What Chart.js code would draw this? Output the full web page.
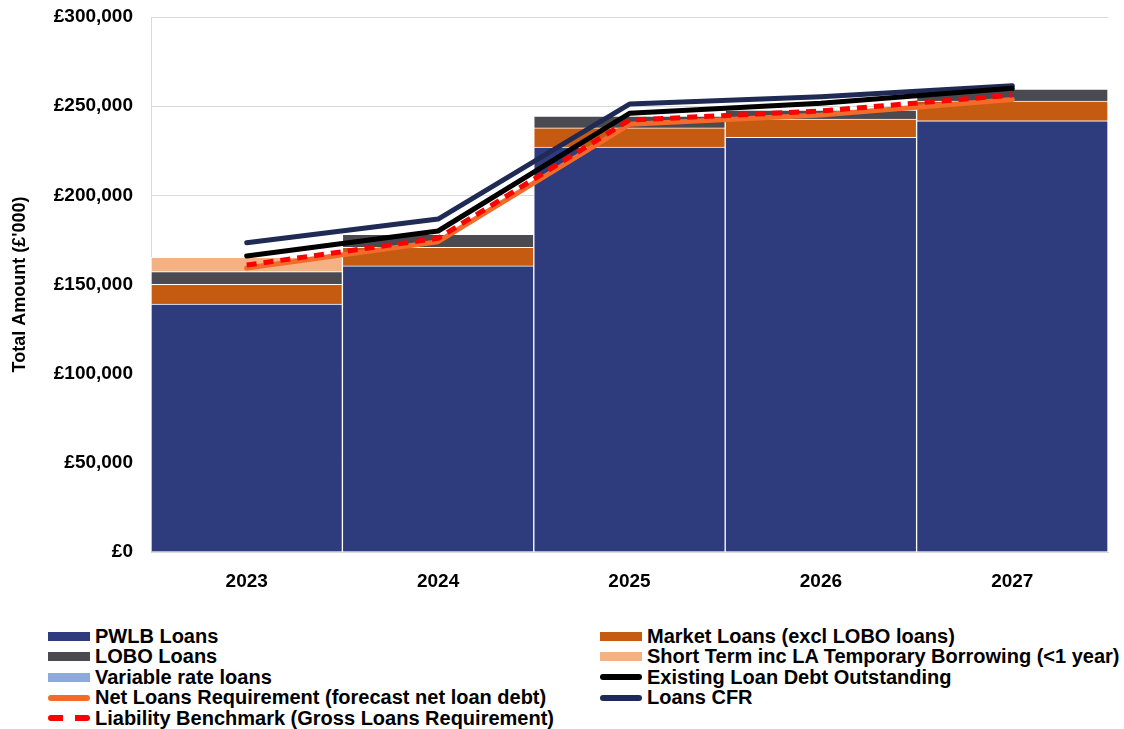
<!DOCTYPE html>
<html>
<head>
<meta charset="utf-8">
<script src="https://cdn.jsdelivr.net/npm/chart.js@4"></script>
<style>
  body { margin: 0; background: #fff; font-family: "Liberation Sans", Arial, sans-serif; }
  #wrap { position: relative; width: 1124px; height: 729px; }
  #legend { position: absolute; left: 0; top: 626px; width: 1124px; }
  .item { position: absolute; height: 20px; display: flex; align-items: center; font-weight: bold; font-size: 20px; color: #000; white-space: nowrap; }
  .sw { width: 42px; margin-right: 5px; }
</style>
</head>
<body>
<div id="wrap">
  <canvas id="chart" width="1124" height="600"></canvas>
  <div id="legend"></div>
</div>
<script>
// data (£'000)
const years = ['2023', '2024', '2025', '2026', '2027'];
const pwlbLoans = [139000, 160400, 227000, 232500, 241800];
const marketLoans = [11100, 10400, 10800, 10300, 11100];
const loboLoans = [7100, 7300, 6700, 5000, 6700];
const shortTerm = [8000, 0, 0, 0, 0];
const variableLoans = [0, 0, 0, 0, 0];
const existingDebt = [166000, 180000, 246000, 251600, 260000];
const loansCFR = [173400, 186700, 251200, 255300, 261500];
const netRequirement = [159200, 174000, 239800, 245000, 253800];
const benchmark = [160900, 175900, 242200, 247300, 256200];

const bar = (label, data, color) => ({
    type: 'bar', label, data, backgroundColor: color,
    borderColor: '#fff', borderWidth: 1, stack: 'loans', order: 10,
    barPercentage: 1, categoryPercentage: 1
});
const line = (label, data, color, width, order, extra) => Object.assign({
    type: 'line', label, data, borderColor: color, backgroundColor: color,
    borderWidth: width, pointRadius: 0, tension: 0, fill: false,
    stack: 'line' + order, order, borderCapStyle: 'round', borderJoinStyle: 'round'
}, extra || {});

const datasets = [
    bar('PWLB Loans', pwlbLoans, '#2e3b7c'),
    bar('Market Loans (excl LOBO loans)', marketLoans, '#c55a11'),
    bar('LOBO Loans', loboLoans, '#4a4a50'),
    bar('Short Term inc LA Temporary Borrowing (<1 year)', shortTerm, '#f4b183'),
    bar('Variable rate loans', variableLoans, '#8eaadb'),
    line('Existing Loan Debt Outstanding', existingDebt, '#000000', 5, 3),
    line('Net Loans Requirement (forecast net loan debt)', netRequirement, '#f26b2a', 5, 2),
    line('Loans CFR', loansCFR, '#1f2a55', 5, 4),
    line('Liability Benchmark (Gross Loans Requirement)', benchmark, '#ff0000', 5, 1, { borderDash: [10, 7], borderCapStyle: 'butt' })
];

const font = { family: '"Liberation Sans", Arial, sans-serif', weight: 'bold', size: 19 };

new Chart(document.getElementById('chart'), {
    data: { labels: years, datasets },
    options: {
        responsive: false,
        animation: false,
        layout: { padding: { left: 0, right: 16, top: 17, bottom: 0 } },
        plugins: { legend: { display: false }, tooltip: { enabled: false } },
        scales: {
            x: {
                stacked: true,
                grid: { display: false },
                border: { color: '#d9d9d9' },
                ticks: { color: '#000', font, padding: 10 },
                afterFit: s => { s.height = 48; }
            },
            y: {
                stacked: true,
                min: 0, max: 300000,
                ticks: {
                    stepSize: 50000, color: '#000', font, padding: 18,
                    callback: v => '£' + v.toLocaleString('en-GB')
                },
                grid: { color: '#d9d9d9', drawTicks: false },
                border: { color: '#d9d9d9' },
                title: {
                    display: true, text: "Total Amount (£'000)", color: '#000',
                    font: { family: font.family, weight: 'bold', size: 18 },
                    padding: { top: 9, bottom: 0 }
                },
                afterFit: s => { s.width = 151; s.paddingTop = 0; s.paddingBottom = 0; }
            }
        }
    }
});

// two column legend like the original
const legendRows = [
    ['PWLB Loans', 'Market Loans (excl LOBO loans)'],
    ['LOBO Loans', 'Short Term inc LA Temporary Borrowing (<1 year)'],
    ['Variable rate loans', 'Existing Loan Debt Outstanding'],
    ['Net Loans Requirement (forecast net loan debt)', 'Loans CFR'],
    ['Liability Benchmark (Gross Loans Requirement)']
];
const legend = document.getElementById('legend');
legendRows.forEach((row, r) => {
    row.forEach((label, c) => {
        const ds = datasets.find(d => d.label === label);
        const item = document.createElement('div');
        item.className = 'item';
        item.style.left = (c ? 600 : 48) + 'px';
        item.style.top = (r * 20.5) + 'px';
        const sw = document.createElement('span');
        sw.className = 'sw';
        if (ds.type === 'bar') {
            sw.style.height = '9px';
            sw.style.background = ds.backgroundColor;
        } else if (ds.borderDash) {
            sw.style.height = '6px';
            sw.style.background = 'linear-gradient(90deg,#ff0000 0 15px,transparent 15px 27px,#ff0000 27px 42px)';
            sw.style.borderRadius = '3px';
        } else {
            sw.style.height = '6px';
            sw.style.background = ds.borderColor;
            sw.style.borderRadius = '3px';
        }
        item.appendChild(sw);
        item.appendChild(document.createTextNode(label));
        legend.appendChild(item);
    });
});
</script>
</body>
</html>
